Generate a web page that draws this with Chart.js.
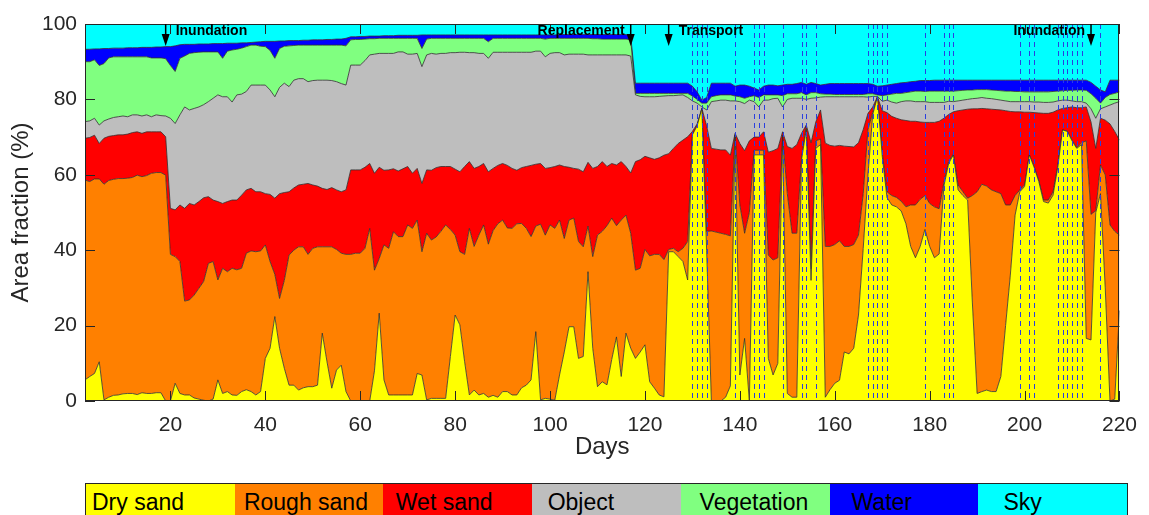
<!DOCTYPE html>
<html>
<head>
<meta charset="utf-8">
<title>Area fraction per day</title>
<script src="https://cdn.jsdelivr.net/npm/chart.js@4.4.0/dist/chart.umd.min.js"></script>
<style>
  html, body { margin: 0; padding: 0; background: #fff; }
  #wrap { position: relative; width: 1149px; height: 515px; overflow: hidden; }
  #chart { position: absolute; left: 0; top: 0; }
  .legend {
    position: absolute; left: 85px; top: 483px; width: 1043px; height: 40px;
    display: flex; border: 1px solid #262626; box-sizing: border-box;
    font-family: "Liberation Sans", Arial, sans-serif; font-size: 23px;
  }
  .legend div { flex: 1; }
  .legend span { position: absolute; top: 0; line-height: 36px; color: #000; white-space: nowrap; }
</style>
</head>
<body>
<div id="wrap">
  <canvas id="chart" width="1149" height="515"></canvas>
  <div class="legend" id="legend"></div>
</div>
<script>
// --- Data: upper edge of each class in the cumulative stack (%), one value per day (day 2..220) ---
const firstDay = 2;
const lastDay = 220;

const dryTop = [
  5.6, 6.5, 7.3, 10.4, 0.3, 1.0, 1.5, 1.6, 1.9, 2.0,
  2.0, 1.7, 2.2, 2.0, 2.0, 2.2, 2.2, 0, 0, 4.7,
  2.0, 1.6, 1.6, 0.8, 0.5, 0.2, 0, 0.5, 5.6, 2.0,
  2.5, 1.6, 1.5, 2.5, 3.0, 2.5, 1.6, 2.5, 11.3, 14.0,
  22.4, 14.0, 8.7, 4.2, 4.2, 2.9, 3.5, 3.8, 3.8, 4.2,
  18.0, 10.4, 3.4, 8.2, 9.5, 2.5, 0, 0, 0, 0,
  0, 8.0, 23.3, 5.6, 1.6, 1.6, 1.6, 1.6, 1.6, 1.6,
  7.3, 6.9, 0.3, 0.7, 0.7, 0.7, 0.7, 11.8, 22.8, 20.2,
  10.4, 1.6, 2.9, 1.6, 2.0, 1.0, 1.5, 1.0, 2.5, 2.5,
  1.6, 1.6, 3.5, 4.2, 5.6, 18.4, 0.3, 0.7, 0.5, 0.2,
  6.9, 13.0, 19.7, 19.7, 11.3, 11.8, 34.3, 14.0, 3.8, 5.1,
  4.3, 11.0, 17.0, 6.5, 18.0, 14.0, 11.3, 13.0, 14.9, 5.1,
  3.4, 1.6, 1.1, 39.6, 39.6, 38.3, 37.0, 32.1, 70.6, 73.0,
  77.6, 40.0, 0, 0, 0, 1.0, 4.0, 70.6, 6.9, 16.6,
  0, 65.3, 65.3, 65.3, 11.3, 6.9, 10.0, 70.0, 2.0, 1.0,
  1.0, 64.0, 72.0, 32.0, 67.0, 68.0, 1.0, 3.0, 4.7, 5.5,
  13.0, 12.5, 14.0, 22.8, 40.5, 60.0, 76.0, 80.7, 65.0, 54.0,
  52.0, 51.5, 50.4, 47.0, 41.0, 38.0, 41.0, 45.5, 41.0, 38.0,
  39.0, 57.0, 63.0, 65.3, 56.0, 54.5, 53.3, 26.0, 2.0, 2.5,
  2.9, 2.5, 2.5, 6.5, 20.0, 33.4, 49.3, 55.5, 56.9, 65.3,
  62.0, 58.2, 52.9, 52.5, 54.6, 62.0, 71.9, 71.5, 69.0, 67.0,
  68.0, 16.6, 16.2, 50.0, 55.0, 30.0, 0, 0.5, 24.0
];

const roughTop = [
  58.6, 58.2, 58.9, 58.9, 57.5, 58.5, 58.8, 59.0, 59.0, 59.1,
  59.3, 59.9, 59.5, 59.8, 60.4, 60.6, 60.6, 59.9, 38.9, 38.3,
  37.0, 26.5, 26.8, 28.1, 29.9, 31.7, 36.5, 37.0, 32.1, 35.2,
  34.3, 35.2, 34.8, 35.2, 39.2, 39.8, 39.6, 39.8, 41.4, 37.0,
  33.6, 27.2, 32.0, 38.7, 40.0, 40.9, 40.9, 38.9, 40.5, 40.9,
  40.9, 40.9, 40.9, 40.2, 39.2, 38.9, 38.9, 39.2, 39.2, 40.5,
  45.8, 34.7, 37.8, 41.4, 40.5, 44.9, 43.6, 43.6, 46.7, 45.8,
  48.0, 39.6, 44.5, 42.7, 43.5, 45.0, 46.7, 45.5, 44.0, 39.6,
  38.9, 45.8, 41.0, 44.0, 46.7, 41.6, 45.2, 47.0, 48.0, 45.9,
  45.8, 47.0, 47.1, 45.8, 43.6, 46.4, 46.9, 44.0, 46.7, 45.8,
  48.0, 43.1, 48.0, 48.5, 42.3, 40.9, 46.4, 38.3, 44.0, 45.0,
  46.5, 48.5, 46.5, 48.0, 49.3, 44.5, 34.7, 35.2, 40.2, 38.5,
  38.9, 38.9, 37.5, 40.2, 40.5, 39.6, 40.5, 42.3, 70.6, 73.0,
  77.6, 45.0, 45.1, 44.8, 44.5, 44.2, 43.8, 70.6, 52.0, 44.5,
  50.0, 66.5, 66.5, 66.5, 38.7, 37.4, 38.0, 70.5, 55.0, 44.5,
  44.5, 64.5, 73.0, 35.0, 69.0, 69.5, 41.0, 41.0, 41.5, 42.5,
  41.0, 41.0, 41.5, 44.0, 55.0, 72.0, 76.5, 80.7, 66.0, 55.5,
  54.5, 54.0, 53.0, 51.5, 52.0, 52.0, 53.5, 54.5, 52.4, 51.5,
  51.0, 58.0, 63.5, 65.5, 57.3, 55.5, 53.8, 54.5, 55.5, 57.5,
  57.0, 56.0, 55.5, 55.0, 52.0, 52.0, 54.5, 56.0, 57.3, 65.3,
  62.2, 58.5, 53.3, 53.3, 55.5, 62.5, 71.9, 71.6, 69.2, 67.2,
  68.5, 69.0, 49.5, 50.5, 62.6, 60.0, 46.7, 45.0, 44.0
];

const wetTop = [
  69.7, 69.9, 70.5, 68.3, 69.7, 70.2, 70.4, 70.6, 70.6, 70.8,
  71.2, 71.4, 71.0, 71.4, 71.4, 71.4, 71.4, 70.1, 51.1, 50.7,
  52.0, 51.1, 52.4, 52.0, 52.9, 53.9, 54.2, 53.3, 52.9, 52.4,
  52.9, 53.3, 53.3, 54.6, 56.0, 56.4, 55.5, 55.5, 55.0, 54.8,
  53.8, 55.0, 55.3, 55.5, 56.5, 57.3, 57.5, 57.7, 57.3, 57.0,
  56.4, 56.1, 56.6, 56.0, 55.5, 56.0, 61.3, 61.3, 61.3, 62.0,
  63.0, 60.4, 62.0, 61.2, 61.3, 61.6, 61.0, 61.6, 62.2, 60.4,
  61.7, 57.7, 61.3, 61.2, 61.9, 62.2, 62.2, 62.2, 61.5, 60.8,
  62.2, 63.5, 61.7, 62.2, 63.0, 60.8, 61.7, 62.5, 63.0, 62.5,
  61.7, 61.2, 61.9, 62.2, 62.5, 62.8, 63.0, 61.7, 61.9, 62.2,
  62.6, 62.2, 62.0, 61.7, 61.5, 60.8, 63.3, 61.7, 62.2, 63.5,
  62.2, 63.0, 62.6, 63.5, 62.2, 60.5, 63.5, 64.0, 64.9, 64.5,
  64.1, 64.5, 65.2, 65.6, 67.0, 68.3, 69.2, 70.1, 71.5, 73.5,
  77.6, 73.0, 67.0, 66.8, 66.6, 66.6, 65.2, 71.0, 68.3, 66.4,
  69.0, 70.0, 70.0, 71.4, 66.0, 66.4, 67.0, 71.4, 67.5, 67.0,
  68.0, 71.0, 73.2, 68.5, 74.0, 77.2, 68.4, 67.8, 67.6, 67.8,
  67.6, 67.5, 67.4, 68.5, 72.0, 76.3, 78.0, 80.7, 77.0, 76.5,
  75.5, 75.0, 74.6, 74.4, 74.2, 74.2, 74.0, 73.9, 73.9, 73.9,
  74.2, 75.0, 76.0, 76.7, 77.0, 77.2, 77.4, 77.5, 77.5, 77.6,
  77.5, 77.4, 77.3, 77.2, 77.0, 76.8, 76.7, 76.7, 76.6, 76.6,
  76.5, 76.4, 76.3, 76.3, 76.6, 77.2, 77.6, 77.8, 78.0, 77.8,
  77.8, 78.0, 74.0, 67.0, 75.0, 74.5, 73.5, 71.5, 69.2
];

const objectTop = [
  74.1, 74.3, 75.0, 73.2, 74.3, 74.8, 75.2, 75.4, 75.6, 75.4,
  75.9, 75.9, 75.6, 75.9, 75.4, 75.9, 75.7, 75.6, 75.0, 73.6,
  75.9, 78.0, 77.2, 77.6, 78.0, 78.6, 79.4, 80.3, 81.2, 80.7,
  80.7, 79.3, 81.2, 81.4, 82.1, 83.8, 83.8, 83.8, 83.8, 82.5,
  80.7, 83.2, 84.3, 83.4, 85.1, 85.5, 85.5, 84.7, 85.0, 85.1,
  85.1, 85.1, 85.0, 84.7, 84.2, 83.8, 89.1, 89.1, 89.1, 90.3,
  91.8, 92.0, 92.2, 92.2, 92.2, 92.2, 92.6, 92.6, 92.0, 92.0,
  92.2, 88.7, 91.8, 92.2, 92.0, 92.2, 92.2, 92.4, 92.4, 92.5,
  92.5, 92.4, 92.4, 92.2, 92.2, 90.9, 92.5, 92.5, 92.5, 92.5,
  92.5, 92.5, 92.5, 92.5, 92.5, 92.8, 92.8, 91.3, 92.2, 92.4,
  92.4, 91.8, 92.0, 92.0, 92.0, 92.0, 91.8, 91.8, 91.8, 91.8,
  91.8, 91.8, 91.8, 91.8, 91.8, 91.5, 81.2, 80.8, 80.7, 80.7,
  80.7, 80.8, 80.9, 81.0, 81.0, 81.1, 81.2, 80.5, 79.6, 79.0,
  78.0, 77.2, 79.4, 79.6, 79.8, 79.8, 79.6, 79.6, 79.4, 78.9,
  79.8, 79.4, 78.0, 79.8, 79.8, 80.2, 80.3, 78.0, 80.0, 80.3,
  80.3, 80.3, 80.0, 80.3, 80.4, 80.6, 80.7, 80.7, 80.7, 80.7,
  80.7, 80.7, 80.7, 80.7, 80.7, 80.6, 80.8, 80.8, 79.5, 79.8,
  79.3, 79.0, 79.4, 79.6, 79.6, 79.4, 79.4, 79.4, 79.2, 79.2,
  79.2, 79.2, 79.5, 79.4, 79.6, 79.8, 80.0, 80.2, 80.3, 80.5,
  80.3, 80.2, 80.0, 79.8, 79.6, 79.4, 79.4, 79.4, 79.4, 79.4,
  79.3, 79.3, 79.2, 79.2, 79.3, 79.6, 79.8, 79.8, 79.6, 79.4,
  79.4, 79.0, 77.5, 75.0, 77.5, 78.0, 78.5, 79.0, 79.4
];

const vegTop = [
  90.0, 90.0, 90.5, 89.0, 89.5, 91.0, 91.3, 91.3, 91.3, 91.3,
  91.3, 91.3, 91.3, 91.3, 91.0, 91.0, 91.0, 90.8, 89.0, 87.4,
  90.9, 91.5, 92.2, 92.4, 92.5, 92.6, 92.6, 92.6, 92.6, 90.9,
  92.8, 93.1, 93.3, 93.6, 94.0, 94.4, 94.4, 94.1, 94.0, 93.0,
  90.9, 93.5, 94.1, 94.2, 94.3, 94.4, 94.4, 94.4, 94.4, 94.4,
  94.4, 94.4, 94.4, 94.4, 94.4, 94.2, 95.8, 95.9, 95.9, 96.0,
  96.1, 96.1, 96.2, 96.2, 96.2, 96.2, 96.2, 96.2, 96.2, 96.2,
  96.2, 93.5, 96.0, 96.2, 96.2, 96.2, 96.2, 96.2, 96.2, 96.2,
  96.2, 96.2, 96.2, 96.2, 96.2, 95.3, 96.2, 96.2, 96.2, 96.2,
  96.2, 96.2, 96.2, 96.2, 96.2, 96.2, 96.2, 96.0, 96.2, 96.2,
  96.2, 96.2, 96.2, 96.2, 96.2, 96.2, 96.2, 96.1, 96.1, 96.0,
  96.0, 96.0, 96.0, 96.0, 96.0, 95.8, 81.6, 81.6, 81.6, 81.6,
  81.6, 81.6, 81.6, 81.6, 81.6, 81.6, 81.6, 81.6, 80.9, 80.0,
  79.0, 79.0, 80.7, 81.0, 81.2, 81.2, 81.2, 80.9, 80.7, 80.3,
  80.7, 81.0, 80.5, 81.2, 81.2, 81.2, 81.2, 81.0, 81.5, 81.5,
  81.5, 81.8, 81.2, 81.8, 81.8, 81.5, 81.4, 81.4, 81.3, 81.3,
  81.3, 81.3, 81.3, 81.3, 81.3, 81.5, 81.5, 81.2, 81.0, 81.2,
  81.4, 81.6, 81.6, 81.8, 82.0, 82.2, 82.2, 82.1, 82.2, 82.2,
  82.2, 82.2, 82.2, 82.2, 82.3, 82.4, 82.5, 82.5, 82.6, 82.6,
  82.6, 82.5, 82.4, 82.3, 82.2, 82.2, 82.1, 82.1, 82.0, 82.0,
  82.0, 82.0, 82.0, 82.0, 82.1, 82.2, 82.3, 82.4, 82.4, 82.5,
  82.5, 82.4, 81.5, 80.3, 79.0, 80.5, 81.3, 81.6, 82.0
];

const waterTop = [
  93.3, 93.3, 93.4, 93.4, 93.5, 93.5, 93.6, 93.6, 93.6, 93.7,
  93.7, 93.7, 93.8, 93.8, 93.8, 93.9, 93.9, 94.0, 94.0, 94.2,
  94.5, 94.6, 94.6, 94.6, 94.7, 94.7, 94.7, 94.8, 94.8, 94.8,
  94.9, 94.9, 94.9, 95.0, 95.0, 95.1, 95.2, 95.3, 95.4, 95.4,
  95.4, 95.5, 95.5, 95.6, 95.6, 95.6, 95.7, 95.7, 95.8, 95.8,
  95.8, 95.9, 95.9, 96.0, 96.0, 96.2, 96.6, 96.6, 96.7, 96.7,
  96.8, 96.8, 96.8, 96.9, 96.9, 96.9, 97.0, 97.0, 97.0, 97.0,
  97.0, 97.1, 97.1, 97.1, 97.1, 97.1, 97.1, 97.1, 97.1, 97.1,
  97.1, 97.1, 97.1, 97.1, 97.1, 97.1, 97.1, 97.1, 97.1, 97.1,
  97.1, 97.1, 97.1, 97.1, 97.1, 97.1, 97.1, 97.1, 97.1, 97.1,
  97.2, 97.2, 97.2, 97.2, 97.2, 97.2, 97.2, 97.2, 97.2, 97.2,
  97.2, 97.2, 97.2, 97.2, 97.2, 96.8, 84.3, 84.3, 84.3, 84.3,
  84.3, 84.3, 84.3, 84.3, 84.3, 84.3, 84.3, 84.3, 83.5, 82.0,
  79.8, 80.5, 84.3, 84.3, 84.3, 84.3, 84.3, 83.5, 83.8, 83.8,
  83.5, 83.0, 82.5, 83.5, 83.8, 83.8, 83.6, 83.8, 84.0, 84.0,
  84.2, 84.5, 84.0, 84.5, 84.2, 83.8, 84.0, 84.2, 84.2, 84.2,
  84.2, 84.2, 84.2, 84.2, 84.2, 84.2, 84.0, 83.5, 83.6, 83.8,
  84.0, 84.2, 84.4, 84.5, 84.7, 84.8, 85.0, 85.0, 85.0, 85.1,
  85.1, 85.1, 85.1, 85.1, 85.1, 85.1, 85.1, 85.1, 85.1, 85.1,
  85.1, 85.1, 85.1, 85.1, 85.1, 85.1, 85.1, 85.1, 85.1, 85.1,
  85.1, 85.1, 85.1, 85.1, 85.1, 85.1, 85.1, 85.1, 85.1, 85.1,
  85.1, 85.1, 84.5, 83.5, 82.5, 82.0, 85.1, 85.1, 85.1
];

const classNames = ['Dry sand', 'Rough sand', 'Wet sand', 'Object', 'Vegetation', 'Water', 'Sky'];
const classColors = ['#ffff00', '#ff8000', '#ff0000', '#bebebe', '#80ff80', '#0000ff', '#00ffff'];

const xTicks = [20, 40, 60, 80, 100, 120, 140, 160, 180, 200, 220];
const yTicks = [0, 20, 40, 60, 80, 100];

// days with a dashed marker line
const eventDays = [130, 131, 132, 133, 139, 143, 144, 145, 149, 153, 154, 156,
  167, 168, 169, 170, 171, 179, 183, 184, 185, 199, 201, 202,
  207, 208, 209, 210, 211, 212, 216];

// arrow annotations along the top edge
const noteDays = [19, 117, 125, 214];
const noteTexts = ['Inundation', 'Replacement', 'Transport', 'Inundation'];
const noteSide = ['right', 'left', 'right', 'left'];

// --- Build datasets ---
const days = [];
for (let d = firstDay; d <= lastDay; d++) days.push(d);
const toPoints = arr => arr.map((v, i) => ({ x: days[i], y: v }));

const edges = [dryTop, roughTop, wetTop, objectTop, vegTop, waterTop];
const datasets = classNames.map((name, i) => {
  const isSky = i === edges.length;
  return {
    label: name,
    data: toPoints(isSky ? waterTop : edges[i]),
    backgroundColor: classColors[i],
    borderColor: isSky ? 'rgba(0,0,0,0)' : '#2e2e2e',
    borderWidth: isSky ? 0 : 0.8,
    fill: i === 0 ? 'origin' : (isSky ? 'end' : '-1'),
    pointRadius: 0,
    tension: 0
  };
});

// --- Legend strip: colour cells, labels on a slightly wider pitch ---
const legendEl = document.getElementById('legend');
classNames.forEach((name, i) => {
  const cell = document.createElement('div');
  cell.style.background = classColors[i];
  legendEl.appendChild(cell);
  const label = document.createElement('span');
  label.textContent = name;
  label.style.left = (6 + i * 151.9) + 'px';
  legendEl.appendChild(label);
});

// --- Frame, inward ticks, marker lines and arrows ---
const AXIS_COLOR = '#262626';
const framePlugin = {
  id: 'frame',
  afterDatasetsDraw(chart) {
    const { ctx, chartArea: a, scales: { x, y } } = chart;
    ctx.save();

    ctx.strokeStyle = '#2a3fe0';
    ctx.lineWidth = 1;
    ctx.setLineDash([5, 4]);
    eventDays.forEach(d => {
      const px = Math.round(x.getPixelForValue(d)) + 0.5;
      ctx.beginPath();
      ctx.moveTo(px, a.top);
      ctx.lineTo(px, a.bottom);
      ctx.stroke();
    });
    ctx.setLineDash([]);

    ctx.strokeStyle = AXIS_COLOR;
    ctx.lineWidth = 1;
    ctx.beginPath();
    xTicks.forEach(v => {
      const px = Math.round(x.getPixelForValue(v)) + 0.5;
      ctx.moveTo(px, a.bottom); ctx.lineTo(px, a.bottom - 10);
      ctx.moveTo(px, a.top); ctx.lineTo(px, a.top + 10);
    });
    yTicks.forEach(v => {
      const py = Math.round(y.getPixelForValue(v)) + 0.5;
      ctx.moveTo(a.left, py); ctx.lineTo(a.left + 10, py);
      ctx.moveTo(a.right, py); ctx.lineTo(a.right - 10, py);
    });
    ctx.stroke();
    ctx.strokeRect(Math.round(a.left) + 0.5, Math.round(a.top) + 0.5,
      Math.round(a.width) - 1, Math.round(a.height) - 1);

    ctx.fillStyle = '#000';
    ctx.strokeStyle = '#000';
    ctx.font = 'bold 14px "Liberation Sans", Arial, sans-serif';
    ctx.textBaseline = 'alphabetic';
    noteDays.forEach((d, i) => {
      const px = x.getPixelForValue(d);
      ctx.lineWidth = 1.5;
      ctx.beginPath();
      ctx.moveTo(px, a.top);
      ctx.lineTo(px, a.top + 12);
      ctx.stroke();
      ctx.beginPath();
      ctx.moveTo(px - 4, a.top + 10);
      ctx.lineTo(px + 4, a.top + 10);
      ctx.lineTo(px, a.top + 22);
      ctx.closePath();
      ctx.fill();
      if (noteSide[i] === 'right') {
        ctx.textAlign = 'left';
        ctx.fillText(noteTexts[i], px + 10, a.top + 11);
      } else {
        ctx.textAlign = 'right';
        ctx.fillText(noteTexts[i], px - 6, a.top + 11);
      }
    });
    ctx.restore();
  }
};

const tickFont = { family: '"Liberation Sans", Arial, sans-serif', size: 21 };
const titleFont = { family: '"Liberation Sans", Arial, sans-serif', size: 24 };

new Chart(document.getElementById('chart'), {
  type: 'line',
  data: { datasets },
  options: {
    responsive: false,
    animation: false,
    events: [],
    layout: { padding: { left: 0, right: 21, top: 24, bottom: 53 } },
    plugins: { legend: { display: false }, tooltip: { enabled: false } },
    scales: {
      x: {
        type: 'linear',
        min: firstDay,
        max: lastDay,
        grid: { display: false, drawTicks: false },
        border: { display: false },
        afterBuildTicks: scale => { scale.ticks = xTicks.map(v => ({ value: v })); },
        afterFit: scale => { scale.height = 61; },
        ticks: { font: tickFont, color: AXIS_COLOR, padding: 12, maxRotation: 0 },
        title: { display: true, text: 'Days', font: titleFont, color: AXIS_COLOR, padding: 0 }
      },
      y: {
        min: 0,
        max: 100,
        grid: { display: false, drawTicks: false },
        border: { display: false },
        afterBuildTicks: scale => { scale.ticks = yTicks.map(v => ({ value: v })); },
        afterFit: scale => { scale.width = 85; },
        ticks: { font: tickFont, color: AXIS_COLOR, padding: 8 },
        title: { display: true, text: 'Area fraction (%)', font: titleFont, color: AXIS_COLOR, padding: { top: 7, bottom: 0 } }
      }
    }
  },
  plugins: [framePlugin]
});
</script>
</body>
</html>
